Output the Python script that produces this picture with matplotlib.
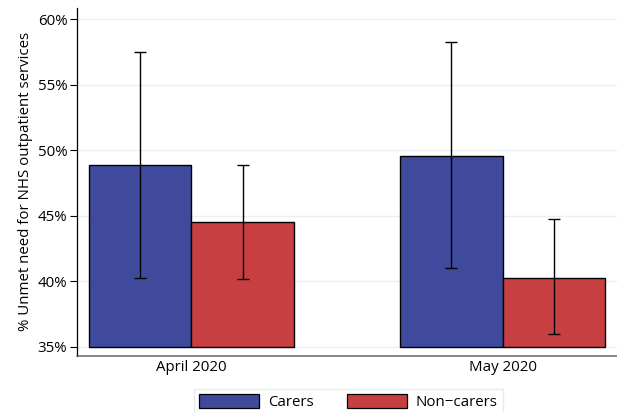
import numpy as np
import matplotlib as mpl

mpl.use('Agg')
import matplotlib.pyplot as plt
from matplotlib.patches import Patch

# survey waves and estimates (% with unmet need), with 95% CI bounds
months = ["April 2020", "May 2020"]
carers = [48.83, 49.57]
carers_lo = [40.25, 40.99]
carers_hi = [57.48, 58.24]
noncarers = [44.50, 40.25]
noncarers_lo = [40.13, 36.00]
noncarers_hi = [48.85, 44.77]
yticks = [35, 40, 45, 50, 55, 60]

plt.rcParams['font.family'] = ['Open Sans', 'DejaVu Sans']

blue = "#3f4a9d"
red = "#c83f42"

fig = plt.figure(figsize=(6.17, 4.12), dpi=100)
ax = fig.add_axes([0.1248, 0.136, 0.8752, 0.845])

x = np.arange(len(months))
width = 0.33

def draw(xpos, vals, lo, hi, color):
    vals = np.array(vals)
    ax.bar(xpos, vals - 35, width, bottom=35, color=color,
           edgecolor="black", linewidth=1.0, zorder=2)
    err = [vals - np.array(lo), np.array(hi) - vals]
    ax.errorbar(xpos, vals, yerr=err, fmt="none", ecolor="black",
                elinewidth=1.0, capsize=4, capthick=1.0, zorder=3)

draw(x - width / 2, carers, carers_lo, carers_hi, blue)
draw(x + width / 2, noncarers, noncarers_lo, noncarers_hi, red)

ax.set_xlim(-0.368, 1.368)
ax.set_ylim(34.29, 60.86)
ax.set_yticks(yticks)
ax.set_yticklabels([f"{t}%" for t in yticks], fontsize=10.8)
ax.set_xticks(x)
ax.set_xticklabels(months, fontsize=10.8)
ax.tick_params(axis="y", length=5, width=0.8, pad=2)
ax.tick_params(axis="x", length=0, pad=3)
ax.grid(axis="y", color="#e8f0f1", linewidth=1.0, zorder=0)
ax.set_axisbelow(True)

for side in ("top", "right"):
    ax.spines[side].set_visible(False)
ax.spines["left"].set_linewidth(0.9)
ax.spines["bottom"].set_linewidth(1.1)
ax.spines["bottom"].set_color("#666666")

ax.set_ylabel("% Unmet need for NHS outpatient services", fontsize=10.8, labelpad=3)

handles = [Patch(facecolor=blue, edgecolor="black", linewidth=0.9),
           Patch(facecolor=red, edgecolor="black", linewidth=0.9)]
fig.legend(handles, ["Carers", "Non\u2212carers"], loc="upper center",
           bbox_to_anchor=(0.565, 0.075), ncol=2, fontsize=10.8,
           frameon=True, fancybox=False, edgecolor="#e0e8ea",
           handlelength=4.0, handleheight=1.1, columnspacing=2.2,
           handletextpad=0.6, borderpad=0.35)

fig.savefig("out.png", dpi=100)
